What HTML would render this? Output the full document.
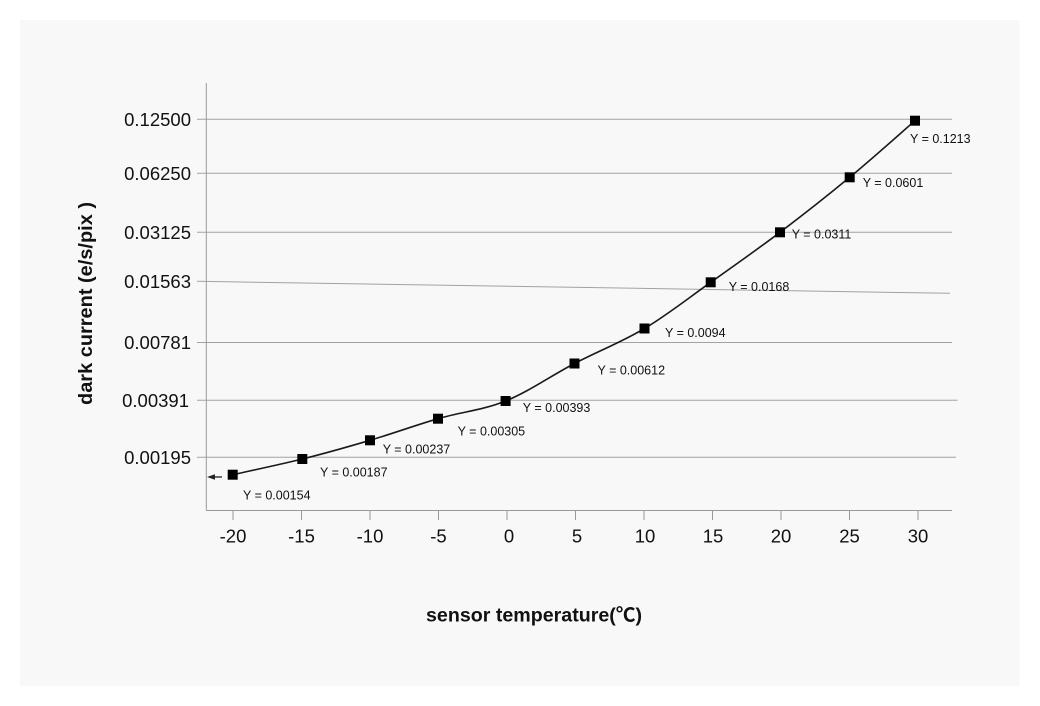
<!DOCTYPE html>
<html>
<head>
<meta charset="utf-8">
<style>
html,body{margin:0;padding:0;background:#fff;}
svg{display:block;}
text{font-family:"Liberation Sans","Noto Sans CJK SC",sans-serif;fill:#111;}
</style>
</head>
<body>
<svg width="1040" height="706" viewBox="0 0 1040 706" xmlns="http://www.w3.org/2000/svg">
<rect x="0" y="0" width="1040" height="706" fill="#ffffff"/>
<rect x="20" y="20" width="999.5" height="666" fill="#f8f8f8"/>

<!-- gridlines -->
<g stroke="#a2a2a2" stroke-width="1" fill="none">
<line x1="197" y1="119.3" x2="952" y2="119.3"/>
<line x1="197" y1="173.3" x2="952" y2="173.3"/>
<line x1="197" y1="232.3" x2="952" y2="232.3"/>
<line x1="197" y1="281.3" x2="950" y2="293.3"/>
<line x1="197" y1="342.5" x2="952" y2="342.5"/>
<line x1="197" y1="400.3" x2="957.5" y2="400.3"/>
<line x1="197" y1="457.3" x2="956" y2="457.3"/>
</g>

<!-- axes -->
<g stroke="#999" stroke-width="1" fill="none">
<line x1="206.3" y1="83" x2="206.3" y2="510.5"/>
<line x1="206.3" y1="510.5" x2="952" y2="510.5"/>
<line x1="233" y1="510.5" x2="233" y2="520"/>
<line x1="301.5" y1="510.5" x2="301.5" y2="520"/>
<line x1="370" y1="510.5" x2="370" y2="520"/>
<line x1="438.5" y1="510.5" x2="438.5" y2="520"/>
<line x1="507" y1="510.5" x2="507" y2="520"/>
<line x1="575.5" y1="510.5" x2="575.5" y2="520"/>
<line x1="644" y1="510.5" x2="644" y2="520"/>
<line x1="712.5" y1="510.5" x2="712.5" y2="520"/>
<line x1="781" y1="510.5" x2="781" y2="520"/>
<line x1="849.5" y1="510.5" x2="849.5" y2="520"/>
<line x1="918" y1="510.5" x2="918" y2="520"/>
</g>

<!-- y tick labels -->
<g font-size="18.5" text-anchor="end">
<text x="191" y="126">0.12500</text>
<text x="191" y="180">0.06250</text>
<text x="191" y="239">0.03125</text>
<text x="191" y="288">0.01563</text>
<text x="191" y="349.2">0.00781</text>
<text x="189" y="407">0.00391</text>
<text x="191" y="464">0.00195</text>
</g>

<!-- x tick labels -->
<g font-size="18.5" text-anchor="middle">
<text x="233" y="542.7">-20</text>
<text x="301.5" y="542.7">-15</text>
<text x="370" y="542.7">-10</text>
<text x="438.5" y="542.7">-5</text>
<text x="509" y="542.7">0</text>
<text x="577" y="542.7">5</text>
<text x="645" y="542.7">10</text>
<text x="713" y="542.7">15</text>
<text x="781" y="542.7">20</text>
<text x="849.5" y="542.7">25</text>
<text x="918" y="542.7">30</text>
</g>

<!-- arrow -->
<line x1="213" y1="477" x2="222" y2="477" stroke="#222" stroke-width="1.3"/>
<polygon points="207,477 215,474.3 215,479.7" fill="#222"/>

<!-- series curve -->
<path d="M232.7,474.7 C244.3,472.1 279.4,464.7 302.3,459 C325.2,453.3 347.4,447.0 370,440.3 C392.6,433.6 415.4,425.3 438,418.7 C460.6,412.1 482.85,410.2 505.6,401 C528.35,391.8 551.35,375.6 574.5,363.5 C597.65,351.4 621.8,342.0 644.5,328.5 C667.2,315.0 688.1,298.3 710.7,282.3 C733.3,266.3 756.8,249.8 780,232.3 C803.2,214.8 827.2,195.9 849.7,177.3 C872.2,158.7 904.1,130.1 915,120.7" fill="none" stroke="#1a1a1a" stroke-width="1.6"/>

<!-- markers -->
<g fill="#000">
<rect x="227.7" y="469.7" width="10" height="10"/>
<rect x="297.3" y="454" width="10" height="10"/>
<rect x="365" y="435.3" width="10" height="10"/>
<rect x="433" y="413.7" width="10" height="10"/>
<rect x="500.6" y="396" width="10" height="10"/>
<rect x="569.5" y="358.5" width="10" height="10"/>
<rect x="639.5" y="323.5" width="10" height="10"/>
<rect x="705.7" y="277.3" width="10" height="10"/>
<rect x="775" y="227.3" width="10" height="10"/>
<rect x="844.7" y="172.3" width="10" height="10"/>
<rect x="910" y="115.7" width="10" height="10"/>
</g>

<!-- data labels -->
<g font-size="12.5">
<text x="243" y="499.5">Y = 0.00154</text>
<text x="320" y="476.5">Y = 0.00187</text>
<text x="382.7" y="453.5">Y = 0.00237</text>
<text x="457.6" y="435.5">Y = 0.00305</text>
<text x="522.8" y="412.2">Y = 0.00393</text>
<text x="597.5" y="374.5">Y = 0.00612</text>
<text x="665" y="337.2">Y = 0.0094</text>
<text x="728.7" y="291.2">Y = 0.0168</text>
<text x="791.7" y="238.5">Y = 0.0311</text>
<text x="862.7" y="186.8">Y = 0.0601</text>
<text x="910" y="142.8">Y = 0.1213</text>
</g>

<!-- axis titles -->
<text x="0" y="0" font-size="19.5" font-weight="bold" text-anchor="middle" textLength="203" lengthAdjust="spacingAndGlyphs" transform="translate(92,303.5) rotate(-90)">dark current (e/s/pix )</text>
<text x="534" y="621.5" font-size="19.5" font-weight="bold" text-anchor="middle" textLength="216" lengthAdjust="spacingAndGlyphs">sensor temperature(℃)</text>
</svg>
</body>
</html>
